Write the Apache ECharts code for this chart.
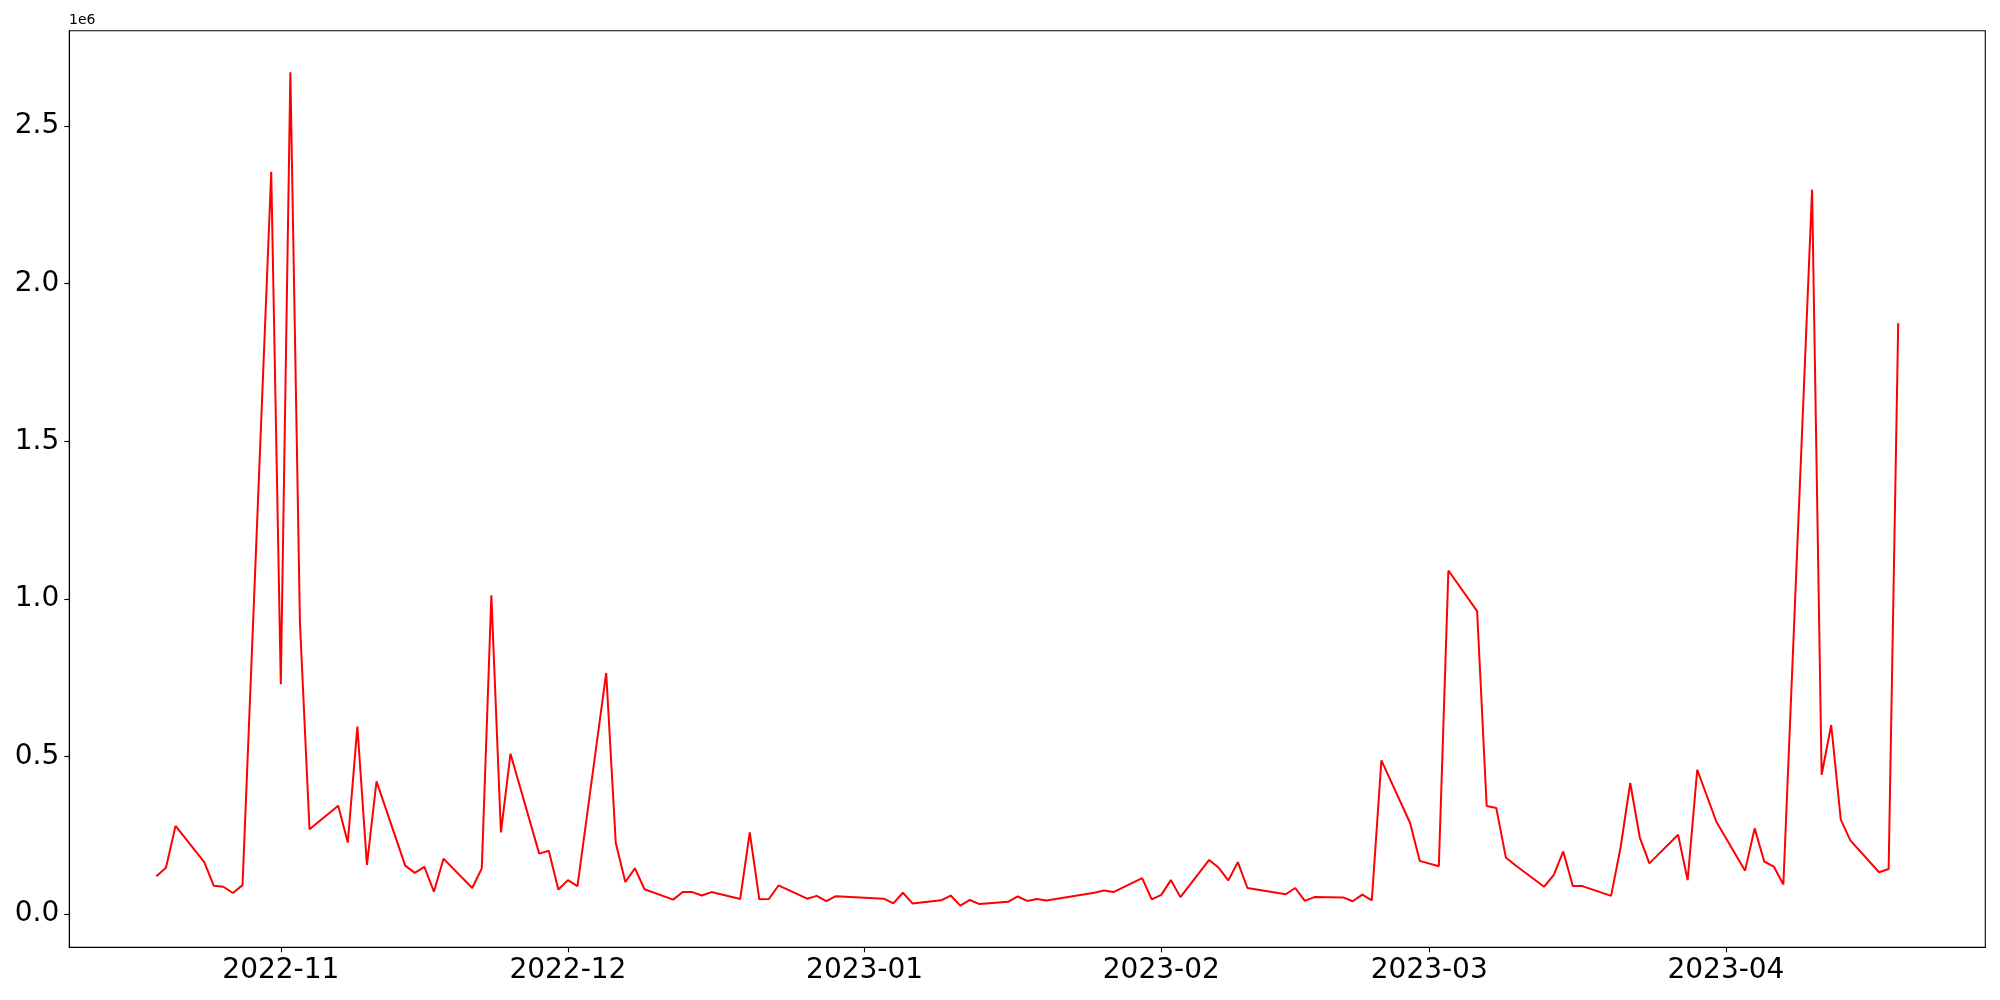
<!DOCTYPE html>
<html>
<head>
<meta charset="utf-8">
<script src="https://cdn.jsdelivr.net/npm/echarts@6/dist/echarts.min.js"></script>
<style>
html,body{margin:0;padding:0;background:#fff;}
#chart{width:2000px;height:1000px;}
</style>
</head>
<body>
<div id="chart"></div>
<script>
const dates = [
'2022-10-19','2022-10-20','2022-10-21','2022-10-24','2022-10-25','2022-10-26','2022-10-27','2022-10-28',
'2022-10-31','2022-11-01','2022-11-02','2022-11-03','2022-11-04',
'2022-11-07','2022-11-08','2022-11-09','2022-11-10','2022-11-11',
'2022-11-14','2022-11-15','2022-11-16','2022-11-17','2022-11-18',
'2022-11-21','2022-11-22','2022-11-23','2022-11-24','2022-11-25',
'2022-11-28','2022-11-29','2022-11-30','2022-12-01','2022-12-02',
'2022-12-05','2022-12-06','2022-12-07','2022-12-08','2022-12-09',
'2022-12-12','2022-12-13','2022-12-14','2022-12-15','2022-12-16',
'2022-12-19','2022-12-20','2022-12-21','2022-12-22','2022-12-23',
'2022-12-26','2022-12-27','2022-12-28','2022-12-29',
'2023-01-03','2023-01-04','2023-01-05','2023-01-06',
'2023-01-09','2023-01-10','2023-01-11','2023-01-12','2023-01-13',
'2023-01-16','2023-01-17','2023-01-18','2023-01-19','2023-01-20',
'2023-01-25','2023-01-26','2023-01-27',
'2023-01-30','2023-01-31','2023-02-01','2023-02-02','2023-02-03',
'2023-02-06','2023-02-07','2023-02-08','2023-02-09','2023-02-10',
'2023-02-14','2023-02-15','2023-02-16','2023-02-17',
'2023-02-20','2023-02-21','2023-02-22','2023-02-23','2023-02-24',
'2023-02-27','2023-02-28','2023-03-02','2023-03-03',
'2023-03-06','2023-03-07','2023-03-08','2023-03-09','2023-03-10',
'2023-03-13','2023-03-14','2023-03-15','2023-03-16','2023-03-17',
'2023-03-20','2023-03-21','2023-03-22','2023-03-23','2023-03-24',
'2023-03-27','2023-03-28','2023-03-29','2023-03-31',
'2023-04-03','2023-04-04','2023-04-05','2023-04-06','2023-04-07',
'2023-04-10','2023-04-11','2023-04-12','2023-04-13','2023-04-14',
'2023-04-17','2023-04-18','2023-04-19'
];
const values = [
120000,147000,280000,165000,90000,87000,67000,92000,
2355000,729000,2670000,924000,269000,
344000,227000,595000,156000,421000,
154000,131000,150000,71000,176000,
83000,145000,1011000,259000,509000,
192000,201000,78000,108000,89000,
765000,226000,102000,145000,79000,
46000,70000,70000,59000,70000,
48000,259000,47000,48000,91000,
49000,58000,41000,57000,
49000,34000,68000,34000,
44000,59000,27000,45000,32000,
39000,56000,42000,48000,43000,
68000,75000,70000,
114000,47000,61000,108000,54000,
172000,147000,107000,165000,83000,
63000,83000,42000,54000,
53000,41000,62000,44000,488000,
289000,169000,152000,1090000,
961000,343000,337000,180000,155000,
87000,124000,199000,89000,89000,
58000,213000,416000,243000,161000,
252000,108000,458000,293000,
138000,272000,167000,151000,94000,
2298000,442000,600000,300000,234000,
133000,143000,1874000
];
const xTickLabels = ['2022-11','2022-12','2023-01','2023-02','2023-03','2023-04'];
const yTickValues = [0, 500000, 1000000, 1500000, 2000000, 2500000];

function toTs(s){ const p = s.split('-').map(Number); return Date.UTC(p[0], p[1]-1, p[2] || 1); }
const seriesData = dates.map((d,i)=>[toTs(d), values[i]]);
const t0 = toTs(dates[0]), t1 = toTs(dates[dates.length-1]);
const xSpan = t1 - t0;
const vMin = Math.min(...values), vMax = Math.max(...values);
const ySpan = vMax - vMin;
const xTicks = xTickLabels.map(toTs);
const font = 'DejaVu Sans';

const chart = echarts.init(document.getElementById('chart'), null, {renderer:'canvas'});
chart.setOption({
  animation: false,
  backgroundColor: '#ffffff',
  grid: {left: 69.3, right: 14.7, top: 30.7, bottom: 52.7, show: true, borderColor: '#000', borderWidth: 1.1, backgroundColor: 'transparent', containLabel: false},
  xAxis: {
    type: 'value',
    min: t0 - 0.05*xSpan,
    max: t1 + 0.05*xSpan,
    scale: true,
    splitLine: {show: false},
    axisLine: {show: true, onZero: false, lineStyle: {color: '#000', width: 1.1}},
    axisTick: {show: true, length: 5, lineStyle: {color: '#000', width: 1.1}, customValues: xTicks},
    axisLabel: {
      show: true, color: '#000', fontFamily: font, fontSize: 28, margin: 9,
      customValues: xTicks,
      formatter: function(v){ const d = new Date(v); return d.getUTCFullYear() + '-' + String(d.getUTCMonth()+1).padStart(2,'0'); }
    }
  },
  yAxis: {
    type: 'value',
    min: vMin - 0.05*ySpan,
    max: vMax + 0.05*ySpan,
    splitLine: {show: false},
    axisLine: {show: true, onZero: false, lineStyle: {color: '#000', width: 1.1}},
    axisTick: {show: true, length: 5, lineStyle: {color: '#000', width: 1.1}, customValues: yTickValues},
    axisLabel: {
      show: true, color: '#000', fontFamily: font, fontSize: 28, margin: 10,
      customValues: yTickValues,
      formatter: function(v){ return (v/1e6).toFixed(1); }
    }
  },
  graphic: [{
    type: 'text', left: 69, top: 13,
    style: {text: '1e6', fill: '#000', font: '14px "DejaVu Sans"'}
  }],
  series: [{
    type: 'line',
    data: seriesData,
    showSymbol: false,
    symbol: 'none',
    lineStyle: {color: '#ff0000', width: 2},
    itemStyle: {color: '#ff0000'}
  }]
});
</script>
</body>
</html>
